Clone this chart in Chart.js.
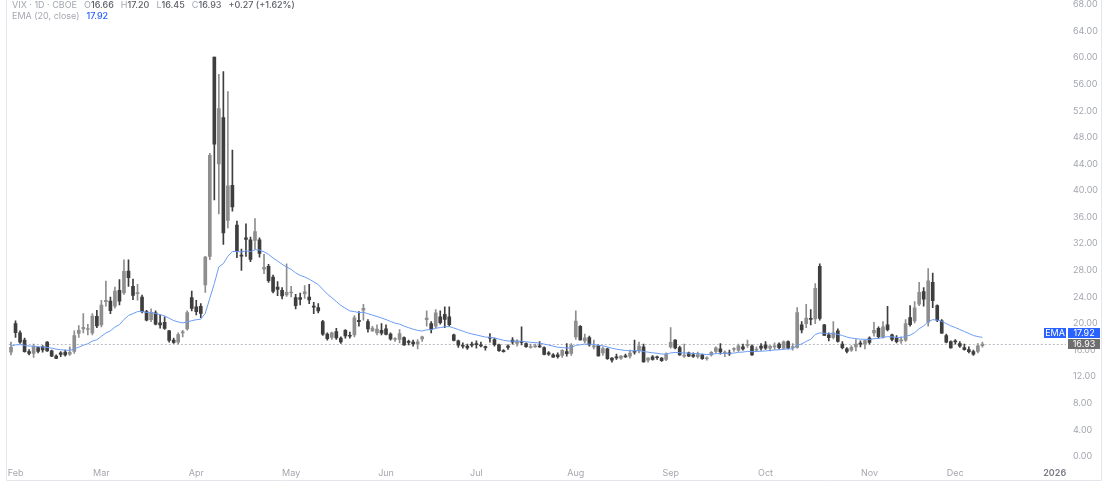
<!DOCTYPE html>
<html>
<head>
<meta charset="utf-8">
<script src="https://cdn.jsdelivr.net/npm/chart.js@4.4.1/dist/chart.umd.min.js"></script>
<style>
  html, body { margin: 0; padding: 0; background: #fff; }
  #wrap { position: relative; width: 1109px; height: 495px; overflow: hidden; font-family: Inter, Roboto, sans-serif; }
  #chart { position: absolute; left: 0; top: 0; }
  .legend { position: absolute; left: 12px; font-size: 9px; line-height: 11px; color: #a4a7af; white-space: nowrap; }
  .legend .v { color: #5f6168; font-weight: 500; }
  .legend .gap { margin-left: 7px; }
</style>
</head>
<body>
<div id="wrap">
  <canvas id="chart" width="1109" height="495"></canvas>
  <div class="legend" id="legend1" style="top:-1px"></div>
  <div class="legend" id="legend2" style="top:10px"></div>
</div>
<script>
// trading days from 31 Jan 2025, weekends and exchange holidays skipped
const firstDay = '2025-01-31';
const dayCount = 234;
const holidays = ['2025-02-17', '2025-04-18', '2025-05-26', '2025-06-19', '2025-07-04', '2025-09-01', '2025-11-27', '2025-12-25', '2026-01-01'];
const monthNames = ['Jan', 'Feb', 'Mar', 'Apr', 'May', 'Jun', 'Jul', 'Aug', 'Sep', 'Oct', 'Nov', 'Dec'];

// daily VIX candles, Jan 31 .. Dec 9
const opens = [
  15.7,
  20.0, 18.6, 17.5, 15.8, 15.5, 16.4, 16.5, 17.2, 15.9, 15.1, 15.6, 15.7, 15.4, 15.8, 18.5, 19.2, 19.1, 18.6, 21.1,
  19.8, 23.3, 23.4, 22.6, 25.0, 24.6, 27.9, 25.6, 24.5, 24.0, 21.8, 20.6, 21.6, 20.1, 20.2, 18.9, 17.5, 17.2, 18.6, 19.2, 23.9,
  22.5, 22.6, 25.8, 30.1, 60.1, 44.0, 51.0, 35.5, 40.8, 34.8, 30.3, 32.9, 32.6, 32.5, 32.6, 28.2, 28.6, 27.0, 25.5, 25.0, 24.3,
  24.6, 23.9, 23.9, 24.5, 24.0, 22.6, 22.4, 20.3, 18.4, 17.9, 18.8, 17.8, 19.0, 18.1, 18.3, 20.5, 22.0, 20.3, 18.9, 18.6, 19.0,
  19.2, 18.4, 17.6, 17.6, 17.9, 17.2, 17.2, 16.9, 17.7, 20.6, 20.0, 19.6, 21.0, 21.4, 21.0, 18.3, 17.4, 16.7, 16.6, 16.9,
  16.9, 16.8, 16.4, 17.8, 17.6, 16.8, 15.9, 16.6, 17.5, 17.0, 17.3, 17.0, 16.4, 16.5, 16.6, 16.4, 15.6, 15.3, 15.3, 15.2, 15.8, 15.5,
  18.0, 19.6, 17.4, 17.9, 16.5, 16.7, 15.6, 16.2, 14.8, 14.9, 14.8, 15.1, 15.1, 15.8, 15.9, 16.5, 14.5, 15.0, 14.9, 14.8, 14.6,
  16.5, 17.5, 16.4, 15.1, 15.6, 15.3, 15.0, 15.3, 14.7, 15.3, 15.8, 16.2, 15.5, 15.6, 16.1, 16.0, 16.5, 16.7, 16.6, 16.0, 16.6,
  16.8, 16.3, 16.5, 16.9, 16.3, 17.3, 16.4, 16.4, 19.8, 20.0, 20.8, 20.7, 28.6, 19.8, 18.3, 17.9, 18.9, 16.9, 16.2, 16.0, 16.5, 17.0, 16.9,
  17.8, 18.6, 19.3, 18.0, 19.8, 18.3, 17.8, 17.4, 17.5, 20.9, 20.4, 22.9, 24.8, 20.2, 26.2, 22.7, 20.4, 18.2, 17.3,
  17.3, 17.0, 16.4, 16.1, 15.8, 15.8, 16.66
];
const highs = [
  17.2,
  20.4, 18.9, 17.8, 16.1, 16.9, 16.5, 16.7, 17.3, 16.0, 15.3, 15.8, 16.0, 16.5, 18.9, 19.7, 21.5, 19.9, 21.5, 22.0,
  23.5, 26.4, 24.0, 25.5, 26.6, 29.6, 29.6, 26.7, 25.9, 24.3, 22.0, 22.2, 21.9, 21.3, 21.0, 19.0, 17.8, 18.6, 19.0, 21.9, 24.9,
  23.5, 23.0, 30.1, 45.6, 60.1, 57.5, 57.9, 54.9, 46.1, 35.4, 31.2, 35.0, 33.0, 35.8, 32.9, 30.4, 28.9, 27.3, 26.3, 25.4, 29.0,
  25.6, 24.4, 24.6, 25.7, 25.9, 23.2, 23.0, 20.5, 18.6, 18.7, 19.3, 18.0, 19.1, 18.7, 21.2, 21.8, 22.9, 20.6, 19.6, 19.8, 20.0,
  19.8, 18.6, 17.9, 19.1, 18.0, 17.5, 17.5, 17.6, 18.1, 21.9, 20.3, 22.1, 21.9, 22.5, 22.5, 18.4, 17.5, 17.1, 16.9, 17.2,
  17.4, 17.2, 16.6, 18.5, 17.8, 16.9, 16.1, 16.8, 17.9, 17.6, 19.5, 17.1, 16.9, 16.9, 17.3, 16.5, 15.8, 15.5, 15.6, 16.1, 17.0, 17.0,
  21.9, 19.7, 18.4, 18.1, 17.5, 16.8, 16.5, 16.3, 14.9, 15.4, 15.2, 15.4, 16.0, 17.5, 17.2, 16.9, 14.9, 15.2, 15.1, 14.9, 15.6,
  19.4, 17.6, 16.6, 16.9, 15.7, 15.6, 15.7, 15.4, 15.0, 15.8, 16.5, 17.0, 15.9, 16.0, 16.4, 16.9, 16.9, 17.5, 16.8, 16.5, 17.0,
  17.3, 16.7, 17.1, 17.1, 17.4, 17.4, 17.0, 22.4, 20.3, 22.9, 22.1, 26.0, 28.99, 19.9, 18.6, 20.3, 19.2, 17.3, 16.4, 16.7, 17.6, 17.4, 17.5,
  18.0, 20.2, 19.5, 20.3, 22.6, 18.4, 18.2, 18.0, 20.6, 22.7, 23.3, 26.2, 25.4, 28.27, 27.6, 22.8, 20.6, 18.4, 17.4,
  17.6, 17.3, 16.9, 16.5, 16.0, 17.0, 17.20
];
const lows = [
  15.3,
  17.9, 17.0, 15.7, 15.3, 14.9, 15.6, 15.7, 15.8, 15.0, 14.7, 15.0, 15.1, 15.2, 15.5, 17.9, 18.6, 18.3, 18.3, 19.4,
  19.5, 22.6, 21.5, 22.3, 22.8, 24.4, 25.6, 23.6, 23.5, 21.6, 20.4, 20.3, 19.8, 19.3, 19.1, 17.2, 17.0, 16.9, 18.0, 19.0, 21.9,
  21.3, 20.9, 24.7, 29.6, 38.6, 36.5, 31.9, 34.4, 36.9, 29.9, 28.0, 30.1, 29.3, 31.2, 30.0, 27.5, 26.2, 24.6, 24.2, 23.7, 24.1,
  24.0, 22.2, 22.8, 23.8, 23.0, 21.5, 21.6, 18.2, 17.5, 17.6, 17.6, 17.0, 17.8, 17.8, 18.0, 19.6, 20.5, 18.7, 18.8, 18.3, 18.3,
  18.3, 17.5, 17.3, 17.1, 16.7, 16.8, 16.6, 16.2, 17.3, 19.6, 18.6, 19.3, 19.9, 19.4, 19.6, 17.4, 16.4, 16.3, 16.1, 16.5,
  16.3, 16.5, 16.0, 17.2, 16.6, 15.8, 15.7, 16.1, 16.9, 16.6, 16.8, 16.4, 16.3, 16.4, 16.4, 15.3, 15.2, 14.9, 14.8, 14.9, 15.1, 15.2,
  17.6, 17.5, 17.1, 16.6, 16.2, 15.1, 15.2, 14.6, 14.2, 14.6, 14.6, 14.9, 14.8, 15.4, 15.6, 14.2, 14.2, 14.5, 14.6, 14.3, 14.4,
  16.3, 16.2, 15.2, 14.9, 15.0, 14.9, 14.8, 14.6, 14.5, 15.1, 15.6, 15.4, 15.0, 15.2, 15.8, 15.8, 16.0, 16.4, 15.2, 15.8, 16.0,
  16.1, 15.9, 16.1, 16.2, 16.1, 16.2, 16.0, 16.3, 18.6, 19.4, 19.8, 20.0, 20.5, 18.2, 17.4, 17.7, 17.2, 16.2, 15.6, 15.8, 15.9, 16.5, 16.2,
  16.9, 18.1, 17.8, 17.8, 18.9, 17.4, 17.1, 17.0, 17.3, 19.6, 20.1, 22.7, 22.6, 19.6, 22.4, 20.3, 18.5, 17.1, 16.3,
  16.9, 16.4, 16.0, 15.6, 15.2, 15.6, 16.45
];
const closes = [
  16.43,
  18.62, 17.21, 15.77, 15.50, 16.54, 15.81, 16.02, 15.89, 15.10, 14.77, 15.35, 15.27, 15.66, 18.21, 18.98, 19.43, 19.10, 21.13, 19.63,
  22.78, 23.51, 21.93, 24.87, 23.37, 27.86, 26.92, 24.23, 24.66, 21.77, 20.51, 21.70, 19.90, 19.80, 19.28, 17.48, 17.15, 18.33, 18.69, 21.65, 22.28,
  21.77, 21.51, 30.02, 45.31, 46.98, 52.33, 33.62, 40.72, 37.56, 30.89, 30.12, 32.64, 29.65, 33.82, 30.57, 28.45, 26.47, 24.84, 25.15, 24.17, 24.70,
  24.60, 22.68, 23.64, 24.76, 23.55, 22.48, 21.90, 18.39, 17.72, 18.62, 17.83, 17.24, 18.14, 18.09, 20.87, 20.28, 22.29, 19.18, 19.31, 19.18, 18.57,
  18.36, 17.69, 17.61, 18.48, 16.77, 17.16, 16.95, 17.26, 18.02, 20.82, 19.11, 21.60, 20.14, 20.62, 19.83, 17.48, 16.76, 16.59, 16.32, 16.73,
  16.83, 16.64, 16.38, 17.79, 16.81, 15.94, 15.78, 16.40, 17.20, 17.38, 17.16, 16.52, 16.41, 16.65, 16.50, 15.37, 15.39, 14.93, 15.03, 15.98, 15.48, 16.72,
  20.38, 17.52, 17.85, 16.77, 16.57, 15.15, 16.25, 14.73, 14.49, 14.83, 15.09, 14.99, 15.57, 15.69, 16.60, 14.22, 14.79, 14.62, 14.85, 14.43, 15.36,
  17.17, 16.35, 15.30, 15.18, 15.11, 15.04, 15.35, 14.71, 14.76, 15.69, 16.36, 15.72, 15.70, 15.45, 16.10, 16.64, 16.18, 16.74, 15.29, 16.12, 16.28,
  16.29, 16.63, 16.65, 16.37, 17.24, 16.30, 16.43, 21.66, 19.03, 20.81, 20.64, 25.31, 20.78, 18.23, 17.87, 18.60, 17.30, 16.37, 15.79, 16.42, 16.92, 16.91, 17.44,
  17.17, 19.00, 18.01, 19.50, 19.08, 17.60, 17.28, 17.51, 20.00, 19.83, 22.38, 24.69, 23.66, 26.42, 23.43, 20.52, 18.56, 17.19, 16.35,
  17.24, 16.59, 16.08, 15.78, 15.41, 16.66, 16.93
];
// EMA (20, close) as drawn
const ema = [
  16.60,
  16.79, 16.83, 16.73, 16.61, 16.60, 16.53, 16.48, 16.42, 16.30, 16.15, 16.07, 16.00, 15.97, 16.18, 16.45, 16.73, 16.96, 17.36, 17.57,
  18.07, 18.59, 18.90, 19.47, 19.84, 20.61, 21.21, 21.50, 21.80, 21.80, 21.67, 21.68, 21.51, 21.34, 21.15, 20.80, 20.45, 20.25, 20.10, 20.25, 20.44,
  20.57, 20.66, 21.55, 23.81, 26.02, 28.53, 29.01, 30.13, 30.84, 30.84, 30.77, 30.95, 30.83, 31.11, 31.06, 30.81, 30.40, 29.87, 29.42, 28.92, 28.52,
  28.15, 27.63, 27.25, 27.01, 26.68, 26.28, 25.86, 25.15, 24.44, 23.89, 23.31, 22.73, 22.30, 21.90, 21.80, 21.65, 21.71, 21.47, 21.27, 21.07, 20.83,
  20.60, 20.32, 20.06, 19.91, 19.61, 19.38, 19.15, 18.97, 18.88, 19.06, 19.07, 19.31, 19.39, 19.51, 19.54, 19.34, 19.10, 18.86, 18.62, 18.44,
  18.29, 18.13, 17.96, 17.95, 17.84, 17.66, 17.48, 17.38, 17.36, 17.36, 17.34, 17.26, 17.18, 17.13, 17.07, 16.91, 16.77, 16.59, 16.44, 16.40, 16.31, 16.35,
  16.73, 16.81, 16.91, 16.90, 16.87, 16.70, 16.66, 16.48, 16.29, 16.15, 16.05, 15.95, 15.91, 15.89, 15.96, 15.79, 15.70, 15.60, 15.53, 15.42, 15.42,
  15.58, 15.66, 15.62, 15.58, 15.54, 15.49, 15.48, 15.40, 15.34, 15.38, 15.47, 15.49, 15.51, 15.51, 15.56, 15.67, 15.71, 15.81, 15.76, 15.80, 15.84,
  15.88, 15.95, 16.02, 16.05, 16.16, 16.18, 16.20, 16.72, 16.94, 17.31, 17.63, 18.36, 18.59, 18.56, 18.49, 18.50, 18.39, 18.20, 17.97, 17.82, 17.73, 17.65, 17.63,
  17.59, 17.72, 17.75, 17.92, 18.03, 17.99, 17.92, 17.88, 18.08, 18.25, 18.64, 19.22, 19.64, 20.29, 20.59, 20.52, 20.32, 20.00, 19.65,
  19.40, 19.11, 18.80, 18.51, 18.20, 18.04, 17.92
];

const yTickMin = 0;
const yTickMax = 68;
const yTickStep = 4;

const UP = '#8e8e8e';
const DOWN = '#3e3e3e';
const EMA_COLOR = '#6b9cf5';
const BADGE_BLUE = '#2962ff';
const FONT = 'Inter, Roboto, sans-serif';

function makeDays() {
    const out = [];
    const d = new Date(firstDay + 'T00:00:00Z');
    while (out.length < dayCount) {
        const iso = d.toISOString().slice(0, 10);
        const wd = d.getUTCDay();
        if (wd !== 0 && wd !== 6 && !holidays.includes(iso)) out.push(iso);
        d.setUTCDate(d.getUTCDate() + 1);
    }
    return out;
}
const days = makeDays();

const candleColors = closes.map((c, i) => c >= opens[i] ? UP : DOWN);

// legend text
const last = closes.length - 1;
const chg = closes[last] - closes[last - 1];
const pct = chg / closes[last - 1] * 100;
const sign = v => (v >= 0 ? '+' : '') + v.toFixed(2);
document.getElementById('legend1').innerHTML =
    'VIX · 1D · CBOE' +
    '<span class="gap">O</span><span class="v">' + opens[last].toFixed(2) + '</span>' +
    '<span class="gap">H</span><span class="v">' + highs[last].toFixed(2) + '</span>' +
    '<span class="gap">L</span><span class="v">' + lows[last].toFixed(2) + '</span>' +
    '<span class="gap">C</span><span class="v">' + closes[last].toFixed(2) + '</span>' +
    '<span class="gap v">' + sign(chg) + ' (' + sign(pct) + '%)</span>';
document.getElementById('legend2').innerHTML =
    'EMA (20, close)<span class="gap" style="color:' + BADGE_BLUE + ';font-weight:500">' + ema[ema.length - 1].toFixed(2) + '</span>';

function badge(ctx, x, y, w, h, fill, text) {
    ctx.fillStyle = fill;
    ctx.fillRect(x, Math.round(y - h / 2), w, h);
    ctx.fillStyle = '#ffffff';
    ctx.font = '9px ' + FONT;
    ctx.textAlign = 'center';
    ctx.textBaseline = 'middle';
    ctx.fillText(text, x + w / 2, Math.round(y - h / 2) + h / 2 + 0.5);
}

const overlay = {
    id: 'overlay',
    beforeDatasetsDraw(chart) {
        const { ctx, chartArea, scales: { y } } = chart;
        const py = Math.round(y.getPixelForValue(closes[last])) + 0.5;
        ctx.save();
        ctx.strokeStyle = '#b9bcc4';
        ctx.lineWidth = 1;
        ctx.setLineDash([2, 2]);
        ctx.beginPath();
        ctx.moveTo(chartArea.left, py);
        ctx.lineTo(chartArea.right, py);
        ctx.stroke();
        ctx.restore();
    },
    afterDraw(chart) {
        const { ctx, chartArea, scales: { y } } = chart;
        ctx.save();
        // panel frame
        ctx.strokeStyle = '#e4e6eb';
        ctx.lineWidth = 1;
        ctx.beginPath();
        ctx.moveTo(6.5, 0); ctx.lineTo(6.5, 480.5);
        ctx.lineTo(1101.5, 480.5); ctx.lineTo(1101.5, 0);
        ctx.stroke();
        // price and EMA badges on the price scale
        const h = 10;
        const bx = chartArea.right + 2;
        const bw = 1100 - bx;
        const py = y.getPixelForValue(closes[last]);
        let ey = y.getPixelForValue(ema[ema.length - 1]);
        if (ey > py - h - 1) ey = py - h - 1;
        badge(ctx, bx, py, bw, h, '#6e6e6e', closes[last].toFixed(2));
        badge(ctx, bx, ey, bw, h, BADGE_BLUE, ema[ema.length - 1].toFixed(2));
        badge(ctx, bx - 24, ey, 22, h, BADGE_BLUE, 'EMA');
        ctx.restore();
    }
};

new Chart(document.getElementById('chart'), {
    data: {
        labels: days,
        datasets: [
            {
                type: 'line',
                data: ema,
                borderColor: EMA_COLOR,
                borderWidth: 1,
                pointRadius: 0,
                tension: 0,
                order: 0
            },
            {
                type: 'bar',
                data: opens.map((o, i) => [o, closes[i]]),
                backgroundColor: candleColors,
                barThickness: 3,
                minBarLength: 1,
                grouped: false,
                order: 1
            },
            {
                type: 'bar',
                data: lows.map((l, i) => [l, highs[i]]),
                backgroundColor: candleColors,
                barThickness: 1,
                grouped: false,
                order: 2
            }
        ]
    },
    options: {
        responsive: false,
        animation: false,
        devicePixelRatio: 1,
        layout: { padding: { left: 7, right: 7, top: 0, bottom: 15 } },
        plugins: { legend: { display: false }, tooltip: { enabled: false } },
        scales: {
            x: {
                type: 'category',
                offset: true,
                grid: { display: false, drawTicks: false },
                border: { display: false },
                afterFit: s => { s.height = 23.5; },
                ticks: {
                    autoSkip: false,
                    maxRotation: 0,
                    padding: 11,
                    color: ctx => ctx.tick && ctx.tick.label === '2026' ? '#787b86' : '#a4a7af',
                    font: ctx => ({ family: FONT, size: 9, weight: ctx.tick && ctx.tick.label === '2026' ? '600' : '400' }),
                    callback: function (value, index) {
                        if (index === 0) return '';
                        const cur = this.getLabelForValue(value);
                        const prev = this.getLabelForValue(index - 1);
                        if (cur.slice(5, 7) === prev.slice(5, 7)) return '';
                        const m = +cur.slice(5, 7) - 1;
                        return m === 0 ? cur.slice(0, 4) : monthNames[m];
                    }
                }
            },
            y: {
                position: 'right',
                min: yTickMin,
                max: yTickMax,
                grid: { display: false, drawTicks: false },
                border: { display: false },
                afterFit: s => { s.width = 36; s.paddingTop = 4.5; s.paddingBottom = 4.5; },
                ticks: {
                    stepSize: yTickStep,
                    padding: 7,
                    color: '#a4a7af',
                    font: { family: FONT, size: 9, lineHeight: 1 },
                    callback: v => v.toFixed(2)
                }
            }
        }
    },
    plugins: [overlay]
});
</script>
</body>
</html>
